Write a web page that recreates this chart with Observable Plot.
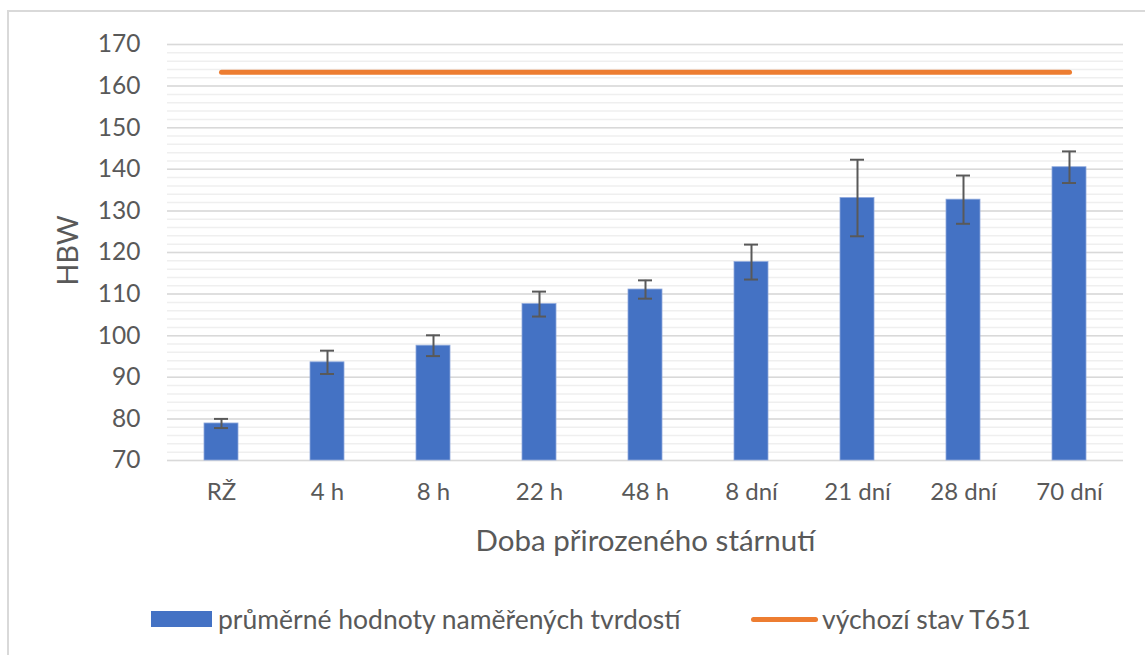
<!DOCTYPE html>
<html>
<head>
<meta charset="utf-8">
<script src="https://cdn.jsdelivr.net/npm/d3@7"></script>
<script src="https://cdn.jsdelivr.net/npm/@observablehq/plot@0.6"></script>
<style>
  html, body { margin: 0; padding: 0; background: #fff; overflow: hidden; width: 1145px; height: 655px; }
  #frame { position: absolute; left: 7px; top: 10px; width: 1200px; height: 700px; border-left: 2px solid #d9d9d9; border-top: 2px solid #d9d9d9; }
  #chart { position: absolute; left: 0; top: 0; }
  .legend { position: absolute; font-family: Lato, sans-serif; font-size: 26.5px; color: #595959; white-space: nowrap; line-height: 30px; }
  .sw-bar { position: absolute; left: 151px; top: 611px; width: 61px; height: 16px; background: #4472C4; }
  .sw-line { position: absolute; left: 751px; top: 617px; width: 67px; height: 5px; border-radius: 3px; background: #ED7D31; }
</style>
</head>
<body>
<div id="frame"></div>
<div id="chart"></div>
<div class="sw-bar"></div>
<div class="legend" style="left:218px; top:604px;">průměrné hodnoty naměřených tvrdostí</div>
<div class="sw-line"></div>
<div class="legend" style="left:822px; top:604px;">výchozí stav T651</div>
<script>
const categories = ["RŽ", "4 h", "8 h", "22 h", "48 h", "8 dní", "21 dní", "28 dní", "70 dní"];
const means = [78.9, 93.6, 97.6, 107.6, 111.1, 117.7, 133.1, 132.7, 140.5];
const errors = [1.1, 2.8, 2.5, 3.0, 2.2, 4.2, 9.2, 5.8, 3.8];
const baselineT651 = 163.3;
const yTicks = [70, 80, 90, 100, 110, 120, 130, 140, 150, 160, 170];
const yMinor = d3.range(70, 171, 2);
const xTitle = "Doba přirozeného stárnutí";
const yTitle = "HBW";

const bars = categories.map((c, i) => ({cat: c, v: means[i], lo: means[i] - errors[i], hi: means[i] + errors[i]}));
const base = categories.map(c => ({cat: c, v: baselineT651}));

const textColor = "#595959";
const chart = Plot.plot({
  width: 1145,
  height: 570,
  marginTop: 44,
  marginBottom: 110,
  marginLeft: 167,
  marginRight: 22,
  style: {fontFamily: "Lato, sans-serif", fontSize: "24px", color: textColor, background: "transparent"},
  x: {domain: categories, paddingInner: 0.68, paddingOuter: 0.34, label: null},
  y: {domain: [70, 170], label: null},
  marks: [
    Plot.ruleY(yMinor, {stroke: "#efefef", strokeWidth: 1.5}),
    Plot.ruleY(yTicks, {stroke: "#d9d9d9", strokeWidth: 1.5}),
    Plot.axisY({ticks: yTicks, tickSize: 0, tickPadding: 27, fontSize: 24.5, label: null}),
    Plot.axisX({tickSize: 0, tickPadding: 22, fontSize: 24, label: null}),
    Plot.barY(bars, {x: "cat", y1: 70, y2: "v", fill: "#4472C4", stroke: "#8fa9dc", strokeWidth: 0.8}),
    Plot.ruleX(bars, {x: "cat", y1: "lo", y2: "hi", stroke: "#595959", strokeWidth: 2}),
    Plot.tickY(bars, {x: "cat", y: "lo", stroke: "#595959", strokeWidth: 2, insetLeft: 10, insetRight: 10}),
    Plot.tickY(bars, {x: "cat", y: "hi", stroke: "#595959", strokeWidth: 2, insetLeft: 10, insetRight: 10}),
    Plot.lineY(base, {x: "cat", y: "v", stroke: "#ED7D31", strokeWidth: 5, strokeLinecap: "round"}),
    Plot.text([xTitle], {frameAnchor: "bottom", dy: 81, fontSize: 29.5, fill: textColor, lineAnchor: "middle"}),
    Plot.text([yTitle], {frameAnchor: "left", dx: -99, dy: -2, rotate: -90, fontSize: 29, fill: textColor, textAnchor: "middle", lineAnchor: "middle"})
  ]
});
document.getElementById("chart").appendChild(chart);
</script>
</body>
</html>
